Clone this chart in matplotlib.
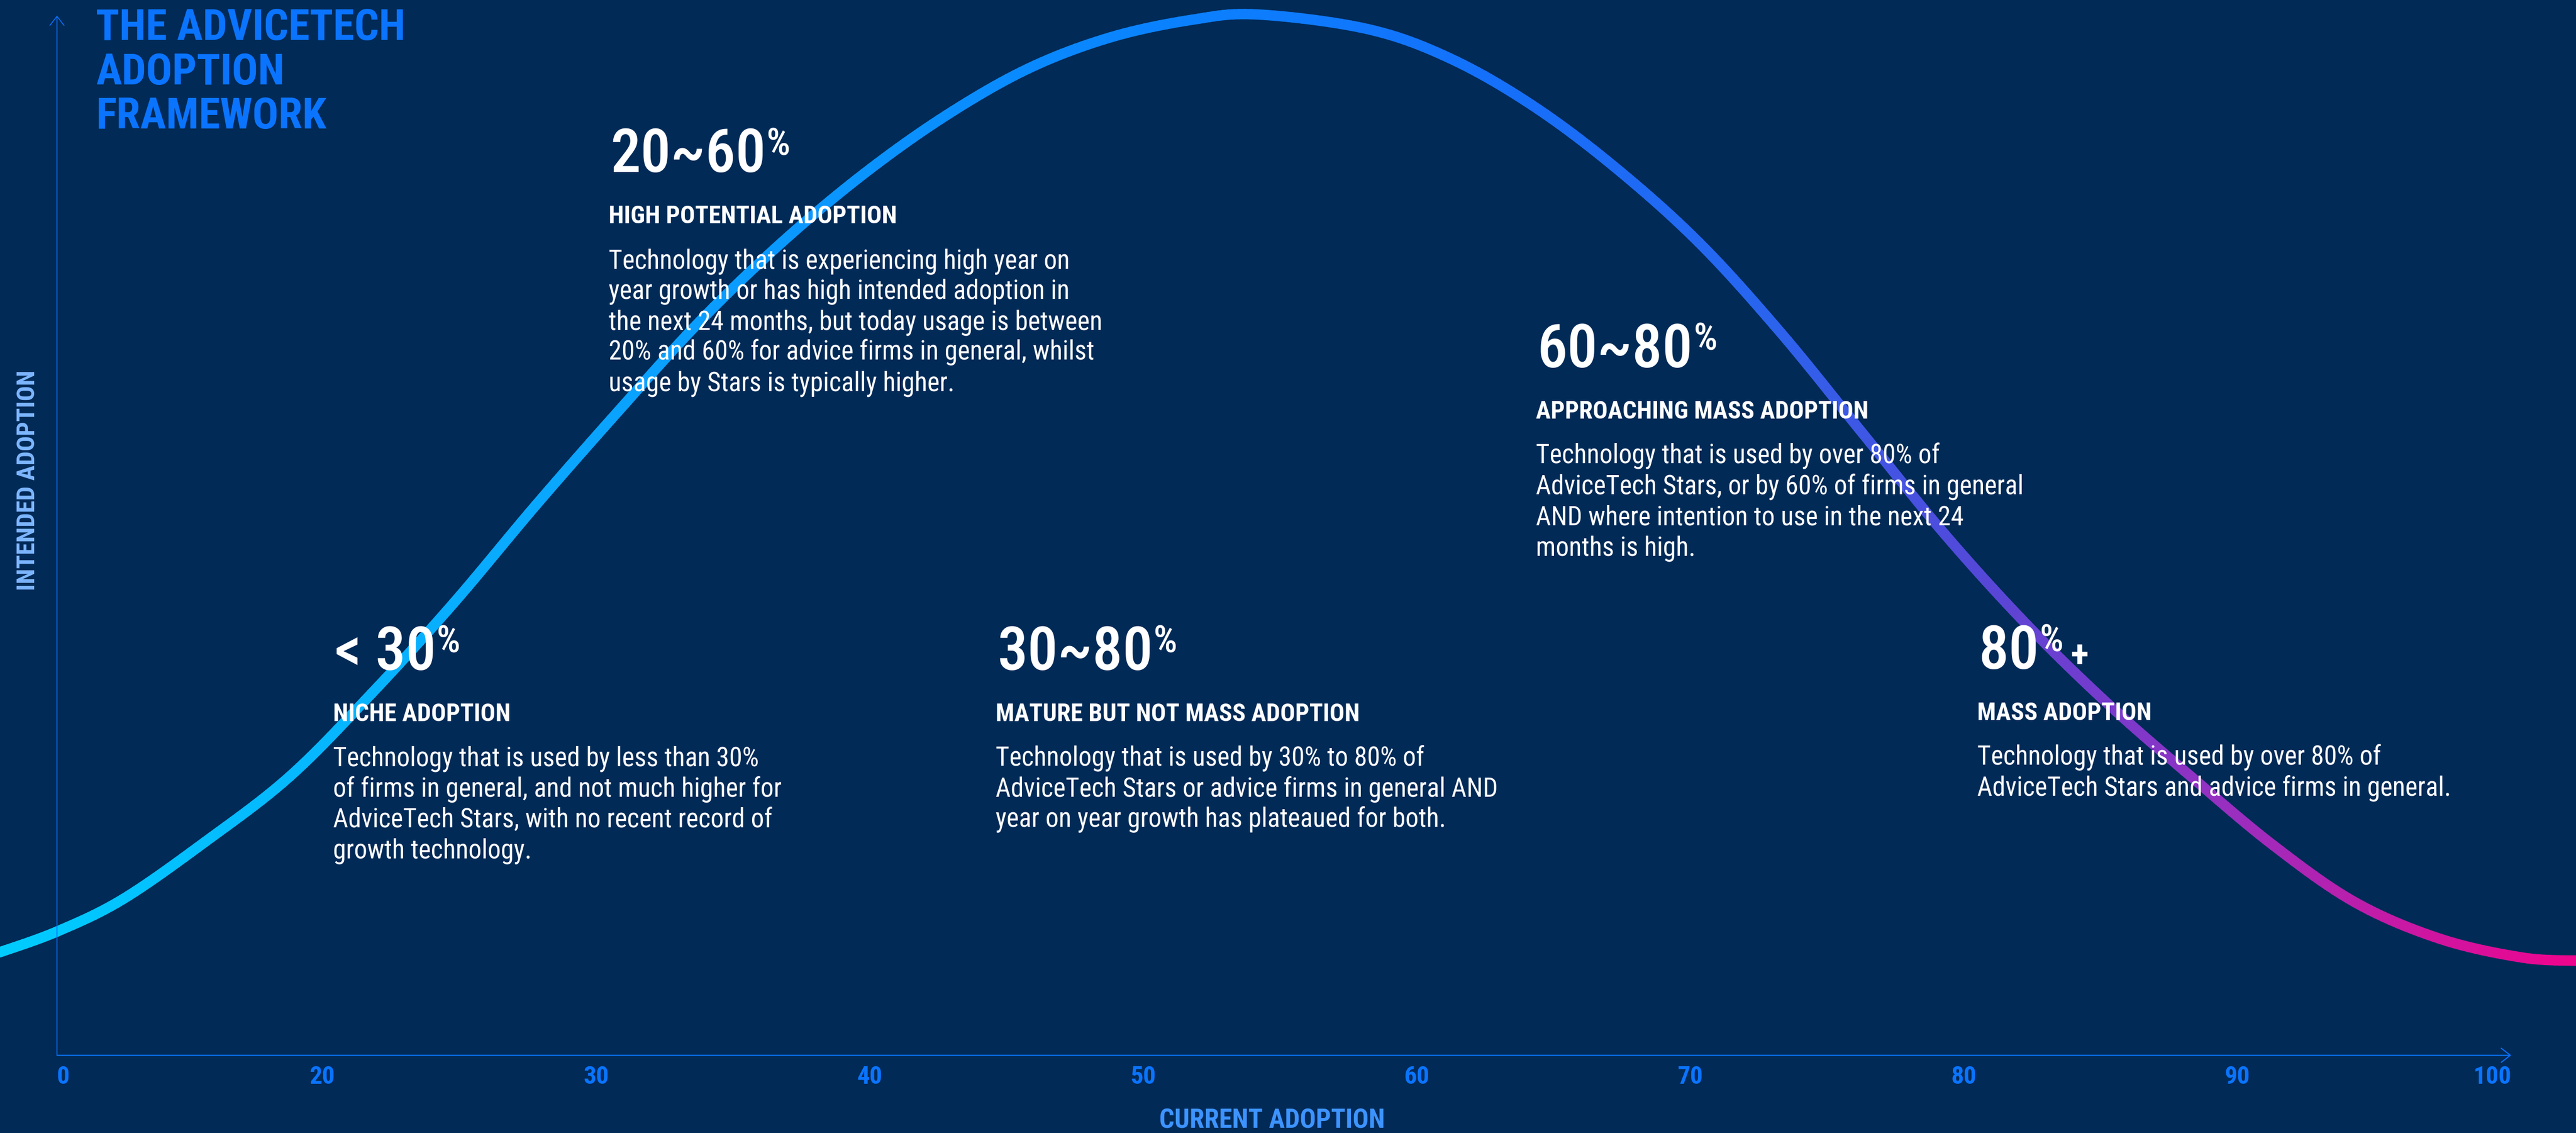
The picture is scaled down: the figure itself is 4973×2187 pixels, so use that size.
import os
import numpy as np
import matplotlib
matplotlib.use("Agg")
import matplotlib.pyplot as plt
import matplotlib.transforms as mtransforms
from matplotlib import font_manager as fm
from matplotlib.collections import LineCollection
from matplotlib.colors import LinearSegmentedColormap

W, H = 4973, 2187
BG = "#012a57"
BLUE = "#0a74ff"
AXIS_BLUE = "#0a6ff5"

# x axis categories (evenly spaced, not linear in %)
tick_labels = ["0", "20", "30", "40", "50", "60", "70", "80", "90", "100"]
tick_pos = [0.03, 1, 2, 3, 4, 5, 6, 7, 8, 9]

# adoption curve, x in tick units, y = intended adoption (0-100)
curve_x = [-0.18, 0.03, 0.27, 0.57, 0.88, 1.18, 1.48, 1.78, 2.08, 2.38, 2.68,
           2.98, 3.28, 3.58, 3.88, 4.18, 4.42, 4.82, 5.12, 5.42, 5.72, 6.03,
           6.33, 6.63, 6.93, 7.23, 7.53, 7.83, 8.13, 8.43, 8.74, 9.04, 9.24]
curve_y = [9.9, 11.9, 15.0, 20.5, 26.8, 34.8, 43.5, 52.9, 61.9, 70.6, 78.2,
           84.8, 90.4, 94.9, 97.9, 99.6, 100.1, 98.7, 95.9, 91.4, 85.5, 78.2,
           69.5, 59.8, 50.1, 41.4, 33.7, 26.8, 20.2, 14.7, 11.2, 9.4, 9.1]

title_lines = ["THE ADVICETECH", "ADOPTION", "FRAMEWORK"]

stage_range = ["< 30", "20~60", "30~80", "60~80", "80"]
stage_name = ["NICHE ADOPTION", "HIGH POTENTIAL ADOPTION",
              "MATURE BUT NOT MASS ADOPTION", "APPROACHING MASS ADOPTION",
              "MASS ADOPTION"]
stage_text = [
    ["Technology that is used by less than 30%",
     "of firms in general, and not much higher for",
     "AdviceTech Stars, with no recent record of",
     "growth technology."],
    ["Technology that is experiencing high year on",
     "year growth or has high intended adoption in",
     "the next 24 months, but today usage is between",
     "20% and 60% for advice firms in general, whilst",
     "usage by Stars is typically higher."],
    ["Technology that is used by 30% to 80% of",
     "AdviceTech Stars or advice firms in general AND",
     "year on year growth has plateaued for both."],
    ["Technology that is used by over 80% of",
     "AdviceTech Stars, or by 60% of firms in general",
     "AND where intention to use in the next 24",
     "months is high."],
    ["Technology that is used by over 80% of",
     "AdviceTech Stars and advice firms in general."],
]

# layout of the text blocks (pixels from top-left)
block_left = [646, 1178, 1925, 2968, 3820]
block_head = [1392, 431, 1392, 808, 1390]


def narrow_font(weight):
    prefer = ["noto", "roboto", "open", "liberation", "lato", "inter", "dejavu"]
    ranked = []
    for f in fm.fontManager.ttflist:
        if f.style != "normal":
            continue
        key = (f.name + " " + os.path.basename(f.fname)).lower().replace(" ", "")
        if "condensed" in key and "semi" not in key and "extra" not in key:
            rank = 0
        elif "narrow" in key or "semicondensed" in key:
            rank = 1
        else:
            continue
        fam = next((i for i, p in enumerate(prefer) if p in key), len(prefer))
        w = f.weight if isinstance(f.weight, (int, float)) else 400
        ranked.append((rank, fam, abs(w - weight), f.fname))
    if ranked:
        return fm.FontProperties(fname=min(ranked)[3])
    return fm.FontProperties(family=["Roboto", "DejaVu Sans"], weight=weight)


def smooth_path(xs, ys, steps=12):
    # Catmull-Rom through the points, drawn as cubic Bezier pieces
    p = np.column_stack([xs, ys]).astype(float)
    p = np.vstack([p[0], p, p[-1]])
    t = np.linspace(0, 1, steps + 1)[:, None]
    out = [p[1]]
    for i in range(1, len(p) - 2):
        a, b = p[i], p[i + 1]
        c1 = a + (p[i + 1] - p[i - 1]) / 6
        c2 = b - (p[i + 2] - p[i]) / 6
        bez = ((1 - t) ** 3 * a + 3 * (1 - t) ** 2 * t * c1
               + 3 * (1 - t) * t ** 2 * c2 + t ** 3 * b)
        out.extend(bez[1:])
    return np.array(out)


f_reg = narrow_font(400)
f_med = narrow_font(500)
f_bold = narrow_font(700)

fig = plt.figure(figsize=(W / 100, H / 100), dpi=100, facecolor=BG)
pix = mtransforms.Affine2D().scale(1.0 / W, -1.0 / H).translate(0, 1) + fig.transFigure

left, right, bottom, top = 110, 4848, 2037, 30
ax = fig.add_axes([left / W, 1 - bottom / H, (right - left) / W, (bottom - top) / H])
ax.set_facecolor("none")
ax.set_xlim(0.03, 9.0)
ax.set_ylim(0, 100)
for s in ax.spines.values():
    s.set_visible(False)
ax.set_yticks([])
ax.set_xticks(tick_pos, tick_labels)
ax.tick_params(axis="x", length=0, pad=14)
for lbl in ax.get_xticklabels():
    lbl.set_fontproperties(f_bold)
    lbl.set_fontsize(35)
    lbl.set_color(BLUE)
ax.get_xticklabels()[0].set_ha("left")
ax.get_xticklabels()[-1].set_ha("right")

# axes with open arrow heads
arrow = dict(arrowstyle="->,head_length=0.45,head_width=0.35", color=AXIS_BLUE,
             lw=1.6, mutation_scale=28, shrinkA=0, shrinkB=0)
ax.annotate("", xy=(1, 0), xytext=(0, 0), xycoords="axes fraction", arrowprops=arrow)
ax.annotate("", xy=(0, 1), xytext=(0, 0), xycoords="axes fraction",
            arrowprops=dict(arrow, lw=1.3))

# gradient curve
cmap = LinearSegmentedColormap.from_list("adopt", [
    (0.00, "#00ccff"), (0.22, "#0aa6ff"), (0.45, "#0a82ff"), (0.58, "#1470fa"),
    (0.68, "#2766f0"), (0.77, "#5548d8"), (0.87, "#9a2ebf"), (0.93, "#c41aa6"),
    (1.00, "#ee058e")])
pts = smooth_path(curve_x, curve_y)
segs = np.stack([pts[:-1], pts[1:]], axis=1)
mid = (segs[:, 0, 0] + segs[:, 1, 0]) / 2
cols = cmap((mid - curve_x[0]) / (curve_x[-1] - curve_x[0]))
lc = LineCollection(segs, colors=cols, linewidths=14.4, capstyle="round",
                    joinstyle="round", clip_on=False, zorder=1)
ax.add_collection(lc)

# title
for i, line in enumerate(title_lines):
    fig.text(185, 77 + 85.5 * i, line, transform=pix, fontproperties=f_bold,
             fontsize=60, color=BLUE, va="baseline", ha="left")

fig.text(54, 927, "INTENDED ADOPTION", transform=pix, fontproperties=f_bold,
         fontsize=35, color="#7db7ff", rotation=90, va="center", ha="center")
fig.text(2456, 2178, "CURRENT ADOPTION", transform=pix, fontproperties=f_bold,
         fontsize=37, color="#3d93ff", va="baseline", ha="center")

renderer = fig.canvas.get_renderer()
for i in range(len(stage_range)):
    x = block_left[i]
    hy = block_head[i]
    base = hy - 99
    num = fig.text(x, base, stage_range[i], transform=pix, fontproperties=f_med,
                   fontsize=84, color="white", va="baseline", ha="left", zorder=3)
    bb = num.get_window_extent(renderer)
    pct = fig.text(bb.x1 + 1, base - 33, "%", transform=pix, fontproperties=f_med,
                   fontsize=52, color="white", va="baseline", ha="left", zorder=3)
    if stage_range[i] == "80":
        pb = pct.get_window_extent(renderer)
        fig.text(pb.x1 + 14, base - 4, "+", transform=pix, fontproperties=f_bold,
                 fontsize=52, color="white", va="baseline", ha="left", zorder=3)
    fig.text(x - 3, hy, stage_name[i], transform=pix, fontproperties=f_bold,
             fontsize=34.5, color="white", va="baseline", ha="left", zorder=3)
    for j, line in enumerate(stage_text[i]):
        fig.text(x - 3, hy + 87 + 59 * j, line, transform=pix, fontproperties=f_reg,
                 fontsize=36.5, color="white", va="baseline", ha="left", zorder=3)

fig.savefig("out.png", dpi=100, facecolor=BG)
